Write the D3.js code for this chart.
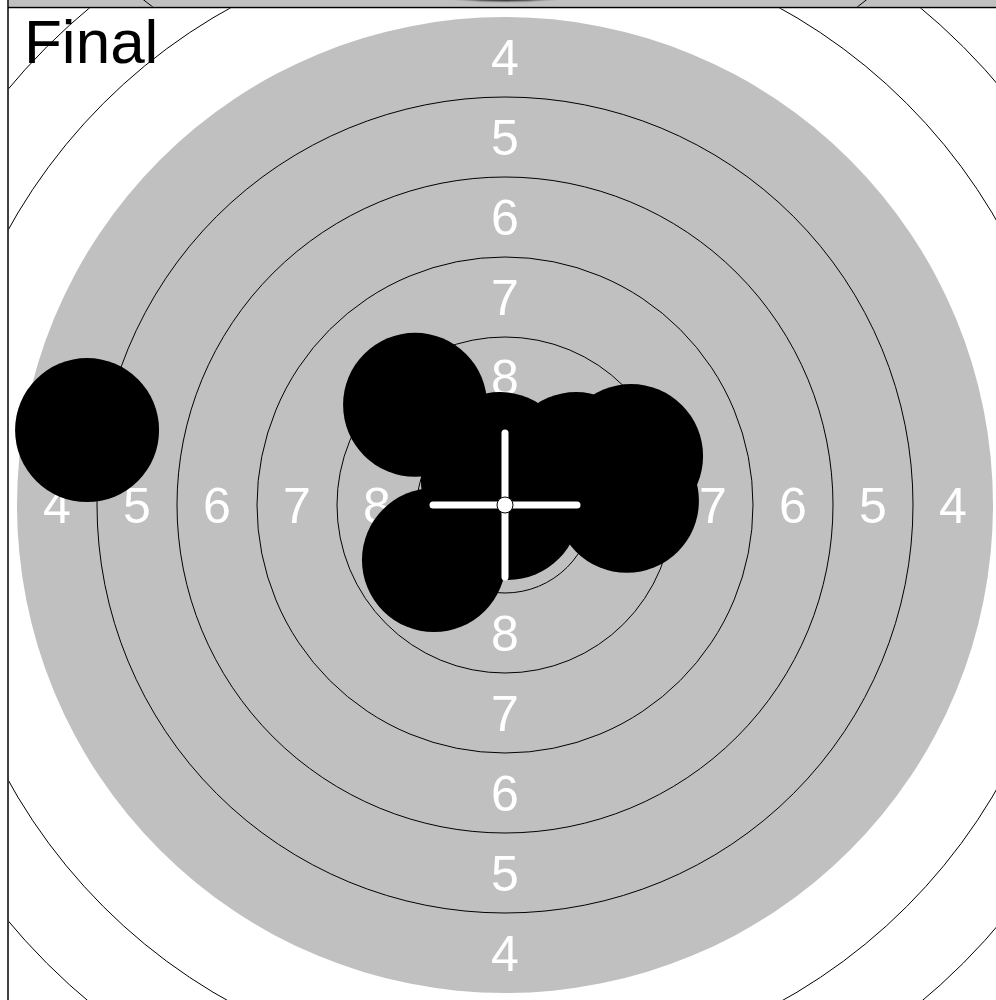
<!DOCTYPE html>
<html>
<head>
<meta charset="utf-8">
<script src="https://cdn.jsdelivr.net/npm/d3@7"></script>
<style>
  html, body { margin: 0; padding: 0; background: #fff; }
  svg { display: block; }
</style>
</head>
<body>
<script>
// air rifle target, values in mm from the centre (y up)
var ringValues  = [10, 9, 8, 7, 6, 5, 4, 3, 2, 1];
var ringRadii   = [0.25, 2.75, 5.25, 7.75, 10.25, 12.75, 15.25, 17.75, 20.25, 22.75];
var labelValues = [4, 5, 6, 7, 8];
var blackRing   = 4; // gray aiming area goes out to this ring

var shotX = [-13.06, -2.81, -2.22, 0.09, -0.16, 2.22, 3.94, 3.81, -0.38];
var shotY = [  2.34,  3.13, -1.72, -0.09, 1.28, 1.28, 1.53, 0.13,  0.78];
var calibre = 4.5;

var title = "Final";

var W = 996, H = 1000,
    cx = 505, cy = 505,
    pxPerMm = 32,
    frameX = 8, frameY = 7.5;

var x = d3.scaleLinear().domain([0, 1]).range([cx, cx + pxPerMm]),
    y = d3.scaleLinear().domain([0, 1]).range([cy, cy - pxPerMm]),
    r = d3.scaleLinear().domain([0, 1]).range([0, pxPerMm]);

var radiusOf = d3.scaleOrdinal().domain(ringValues).range(ringRadii);

var svg = d3.select("body").append("svg")
    .attr("width", W)
    .attr("height", H)
    .attr("viewBox", "0 0 " + W + " " + H);

var defs = svg.append("defs");
defs.append("clipPath").attr("id", "clipTop")
  .append("rect").attr("x", frameX + 0.75).attr("y", 0)
  .attr("width", W).attr("height", frameY - 0.75);
defs.append("clipPath").attr("id", "clipMain")
  .append("rect").attr("x", frameX + 0.75).attr("y", frameY + 0.75)
  .attr("width", W).attr("height", H);
defs.append("filter").attr("id", "soft")
  .append("feGaussianBlur").attr("stdDeviation", 1.2);

// bottom edge of the previous panel
var prev = svg.append("g").attr("clip-path", "url(#clipTop)");
prev.append("rect").attr("x", 0).attr("y", 0)
    .attr("width", W).attr("height", frameY)
    .attr("fill", "#c0c0c0");
prev.append("circle").attr("cx", cx).attr("cy", -465).attr("r", 466)
    .attr("fill", "#000").attr("filter", "url(#soft)");
prev.append("circle").attr("cx", cx).attr("cy", -465).attr("r", 589)
    .attr("fill", "none").attr("stroke", "#000").attr("stroke-width", 1);

// main target
var g = svg.append("g").attr("clip-path", "url(#clipMain)");

g.append("circle")
    .attr("cx", x(0)).attr("cy", y(0))
    .attr("r", r(radiusOf(blackRing)))
    .attr("fill", "#c0c0c0");

g.selectAll(".ring")
    .data(ringValues.filter(function(d){ return d !== blackRing; }))
    .enter().append("circle")
    .attr("class", "ring")
    .attr("cx", x(0)).attr("cy", y(0))
    .attr("r", function(d){ return r(radiusOf(d)); })
    .attr("fill", "none")
    .attr("stroke", "#000")
    .attr("stroke-width", 1);

// ring numbers, half way between a ring and the next one in
var labelPos = [];
labelValues.forEach(function(v){
  var mid = (radiusOf(v) + radiusOf(v + 1)) / 2;
  labelPos.push({v: v, dx: 0, dy: mid});
  labelPos.push({v: v, dx: 0, dy: -mid});
  labelPos.push({v: v, dx: -mid, dy: 0});
  labelPos.push({v: v, dx: mid, dy: 0});
});

g.selectAll(".ringlabel")
    .data(labelPos)
    .enter().append("text")
    .attr("class", "ringlabel")
    .attr("x", function(d){ return x(d.dx); })
    .attr("y", function(d){ return y(d.dy); })
    .attr("dy", "0.36em")
    .attr("text-anchor", "middle")
    .style("font-family", "'Liberation Sans', Arial, Helvetica, sans-serif")
    .style("font-size", "50px")
    .attr("fill", "#fff")
    .text(function(d){ return d.v; });

// shots
g.selectAll(".shot")
    .data(shotX.map(function(d, i){ return {x: d, y: shotY[i]}; }))
    .enter().append("circle")
    .attr("class", "shot")
    .attr("cx", function(d){ return x(d.x); })
    .attr("cy", function(d){ return y(d.y); })
    .attr("r", r(calibre / 2))
    .attr("fill", "#000");

// crosshair
var arm = calibre / 2;
g.append("line")
    .attr("x1", x(-arm)).attr("x2", x(arm))
    .attr("y1", y(0)).attr("y2", y(0));
g.append("line")
    .attr("x1", x(0)).attr("x2", x(0))
    .attr("y1", y(-arm)).attr("y2", y(arm));
g.selectAll("line")
    .attr("stroke", "#fff")
    .attr("stroke-width", 7)
    .attr("stroke-linecap", "round");
g.append("circle")
    .attr("cx", x(0)).attr("cy", y(0))
    .attr("r", r(radiusOf(10)))
    .attr("fill", "#fff")
    .attr("stroke", "#000")
    .attr("stroke-width", 1);

g.append("text")
    .attr("x", 24).attr("y", 63)
    .style("font-family", "'Liberation Sans', Arial, Helvetica, sans-serif")
    .style("font-size", "62px")
    .attr("fill", "#000")
    .text(title);

// frame
svg.append("line")
    .attr("x1", frameX).attr("x2", frameX)
    .attr("y1", 0).attr("y2", H)
    .attr("stroke", "#000").attr("stroke-width", 1.5);
svg.append("line")
    .attr("x1", frameX).attr("x2", W)
    .attr("y1", frameY).attr("y2", frameY)
    .attr("stroke", "#000").attr("stroke-width", 1.5);
</script>
</body>
</html>
